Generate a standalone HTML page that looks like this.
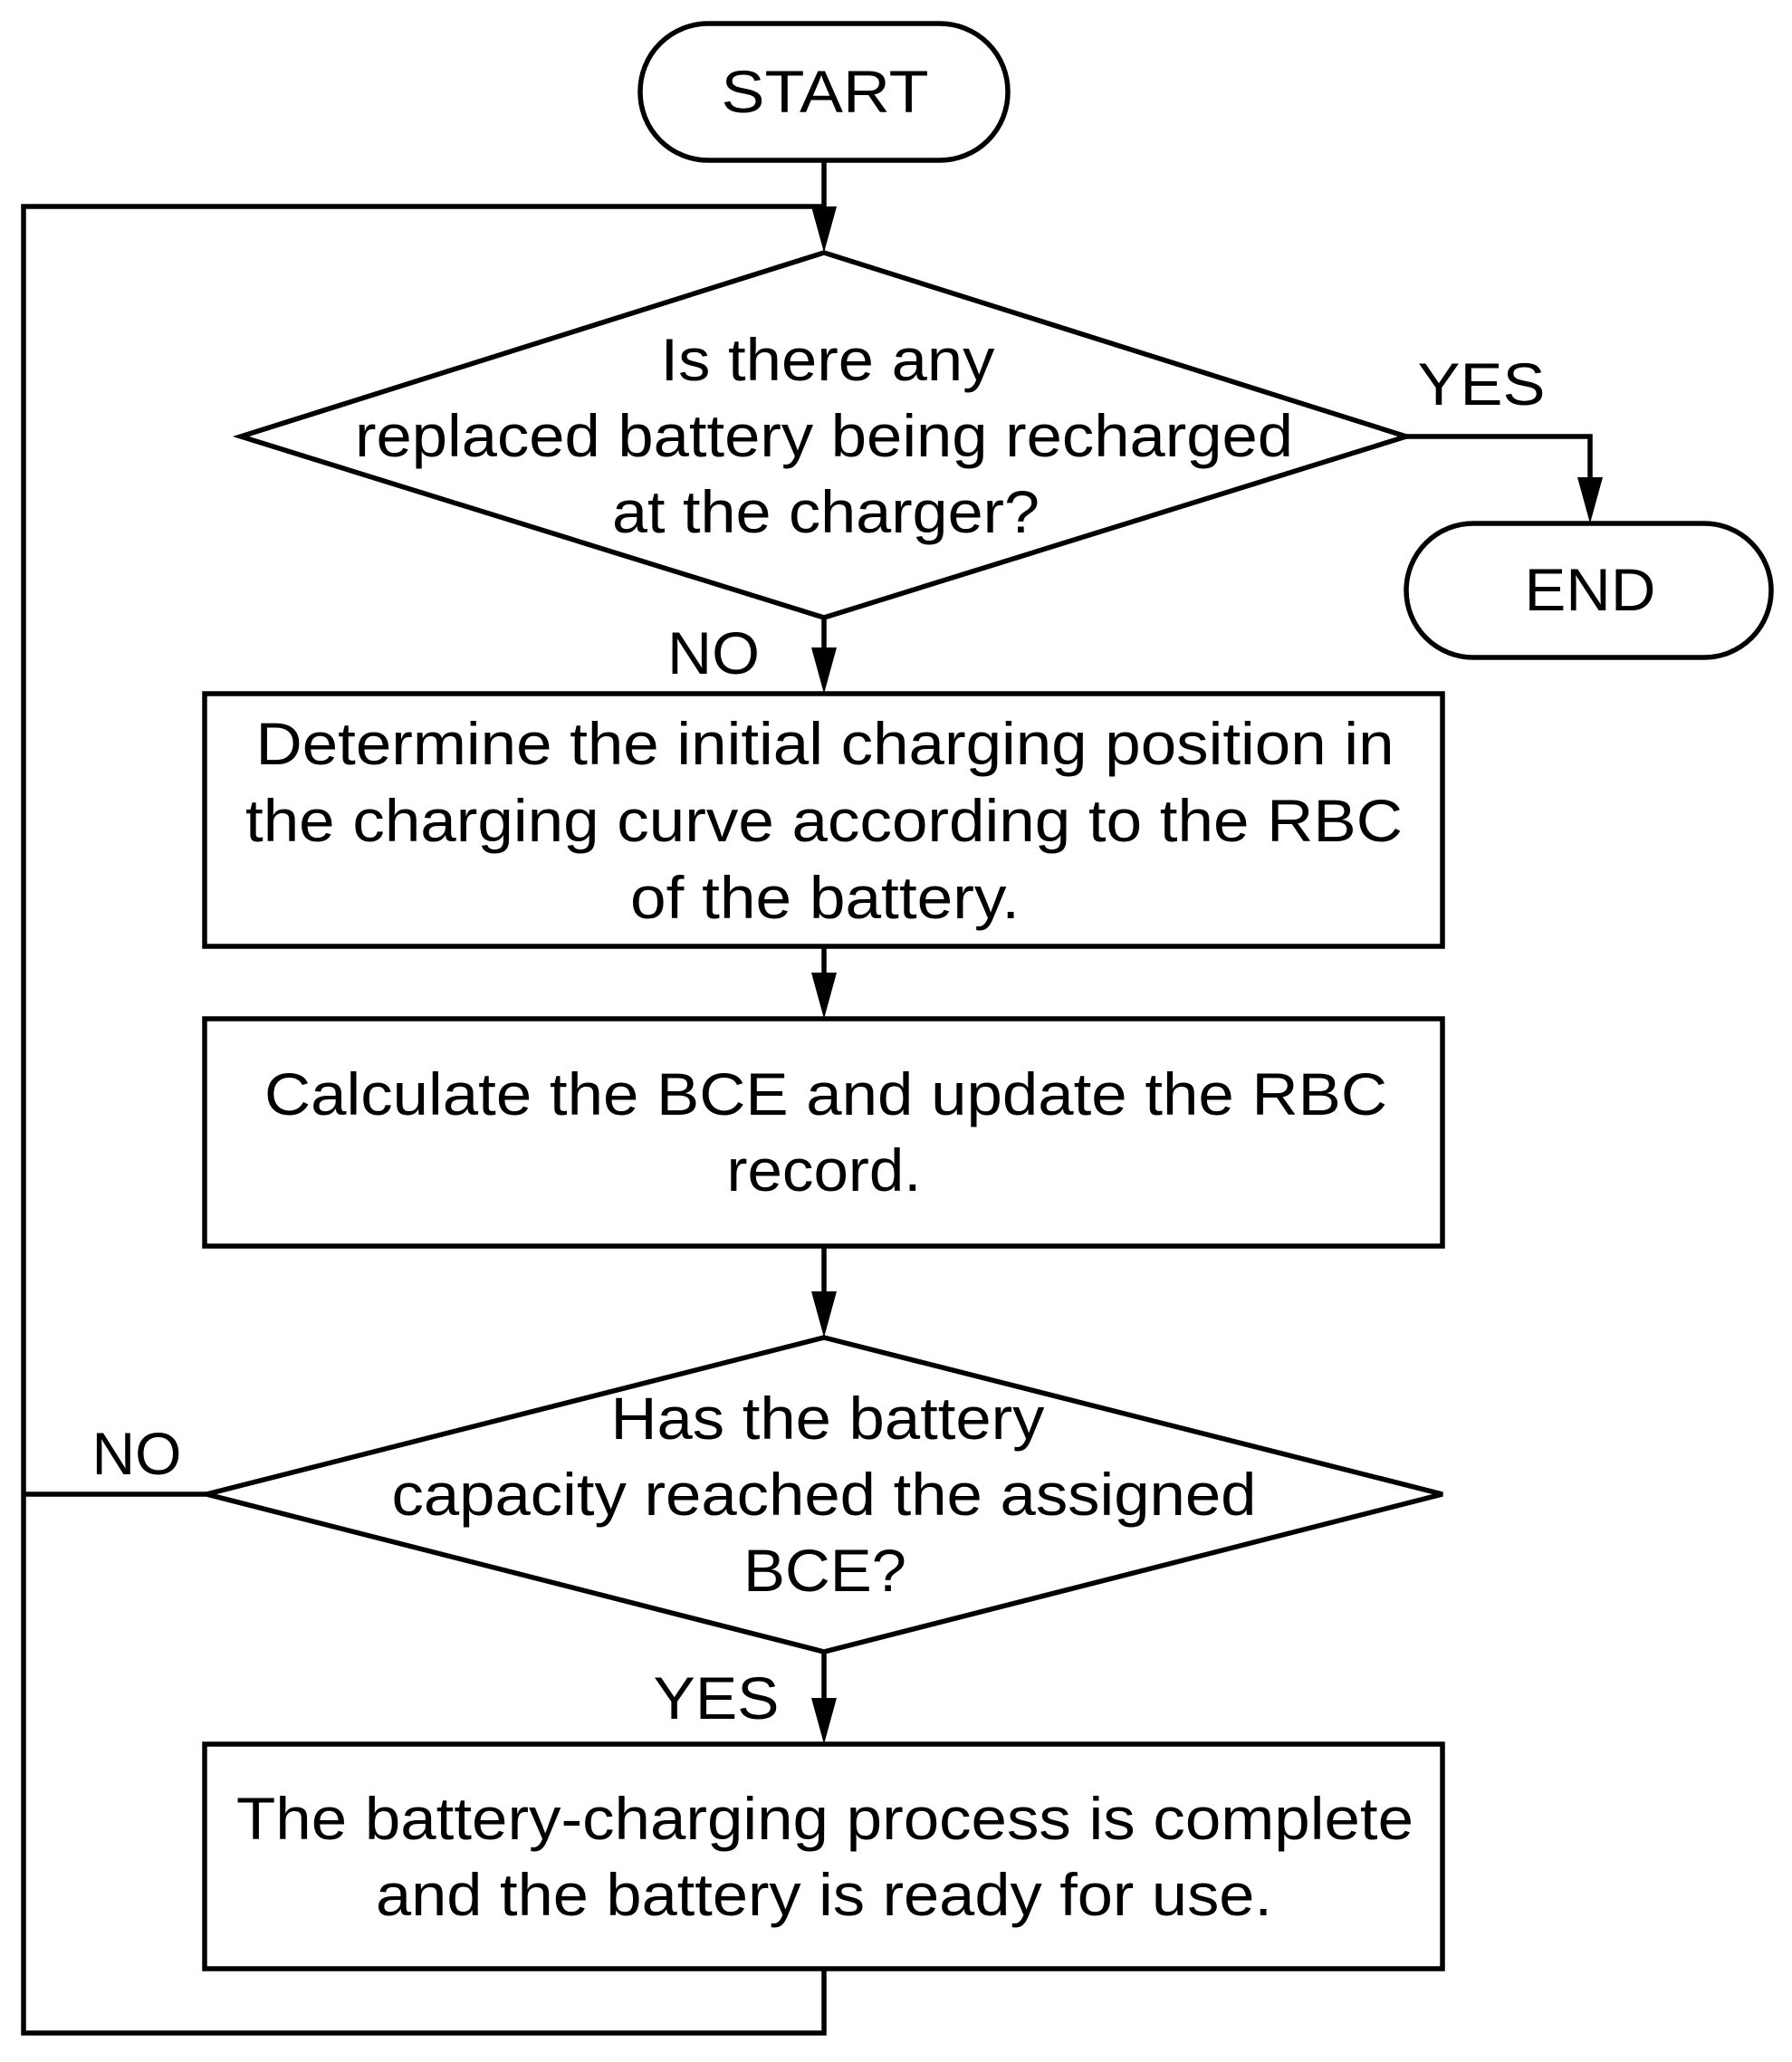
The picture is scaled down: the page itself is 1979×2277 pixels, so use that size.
<!DOCTYPE html>
<html><head><style>body{margin:0;background:#fff}svg{display:block}</style></head>
<body>
<svg width="1979" height="2277" viewBox="0 0 1979 2277" xmlns="http://www.w3.org/2000/svg" font-family="Liberation Sans, Arial, sans-serif" font-size="66" fill="#000">
<g stroke="#000" stroke-width="5.5" fill="none">
<rect x="707" y="26" width="406" height="151" rx="75" ry="75"/>
<rect x="1553" y="578" width="403" height="148" rx="74" ry="74"/>
<polygon points="910,279 1553,482 910,682 266,482"/>
<polygon points="910,1477 1593,1650 910,1824 228,1650"/>
<rect x="226" y="766" width="1367" height="279"/>
<rect x="226" y="1125" width="1367" height="251"/>
<rect x="226" y="1926" width="1367" height="248"/>
<polyline points="910,2174 910,2245 26,2245 26,228 910,228"/>
<line x1="26" y1="1650" x2="228" y2="1650"/>
<line x1="910" y1="177" x2="910" y2="250"/>
<polyline points="1553,482 1756,482 1756,550"/>
<line x1="910" y1="682" x2="910" y2="738"/>
<line x1="910" y1="1045" x2="910" y2="1097"/>
<line x1="910" y1="1376" x2="910" y2="1449"/>
<line x1="910" y1="1824" x2="910" y2="1898"/>
</g>
<g>
<path d="M896,228 L924,228 L910,279 z"/>
<path d="M1742,527 L1770,527 L1756,578 z"/>
<path d="M896,715 L924,715 L910,766 z"/>
<path d="M896,1074 L924,1074 L910,1125 z"/>
<path d="M896,1426 L924,1426 L910,1477 z"/>
<path d="M896,1875 L924,1875 L910,1926 z"/>
</g>
<g text-anchor="middle" lengthAdjust="spacingAndGlyphs">
<text x="911" y="124" textLength="229" lengthAdjust="spacingAndGlyphs">START</text>
<text x="1756" y="674" textLength="145" lengthAdjust="spacingAndGlyphs">END</text>
<text x="914" y="420" textLength="369" lengthAdjust="spacingAndGlyphs">Is there any</text>
<text x="910" y="504" textLength="1036" lengthAdjust="spacingAndGlyphs">replaced battery being recharged</text>
<text x="912" y="588" textLength="472" lengthAdjust="spacingAndGlyphs">at the charger?</text>
<text x="1636" y="447" textLength="141" lengthAdjust="spacingAndGlyphs">YES</text>
<text x="788" y="744" textLength="102" lengthAdjust="spacingAndGlyphs">NO</text>
<text x="911" y="844" textLength="1257" lengthAdjust="spacingAndGlyphs">Determine the initial charging position in</text>
<text x="910" y="929" textLength="1278" lengthAdjust="spacingAndGlyphs">the charging curve according to the RBC</text>
<text x="911" y="1014" textLength="430" lengthAdjust="spacingAndGlyphs">of the battery.</text>
<text x="912" y="1231" textLength="1240" lengthAdjust="spacingAndGlyphs">Calculate the BCE and update the RBC</text>
<text x="910" y="1315" textLength="215" lengthAdjust="spacingAndGlyphs">record.</text>
<text x="914" y="1589" textLength="479" lengthAdjust="spacingAndGlyphs">Has the battery</text>
<text x="910" y="1673" textLength="955" lengthAdjust="spacingAndGlyphs">capacity reached the assigned</text>
<text x="911" y="1757" textLength="180" lengthAdjust="spacingAndGlyphs">BCE?</text>
<text x="151" y="1628" textLength="99" lengthAdjust="spacingAndGlyphs">NO</text>
<text x="791" y="1898" textLength="139" lengthAdjust="spacingAndGlyphs">YES</text>
<text x="911" y="2031" textLength="1300" lengthAdjust="spacingAndGlyphs">The battery-charging process is complete</text>
<text x="910" y="2115" textLength="990" lengthAdjust="spacingAndGlyphs">and the battery is ready for use.</text>
</g>
</svg>
</body></html>
